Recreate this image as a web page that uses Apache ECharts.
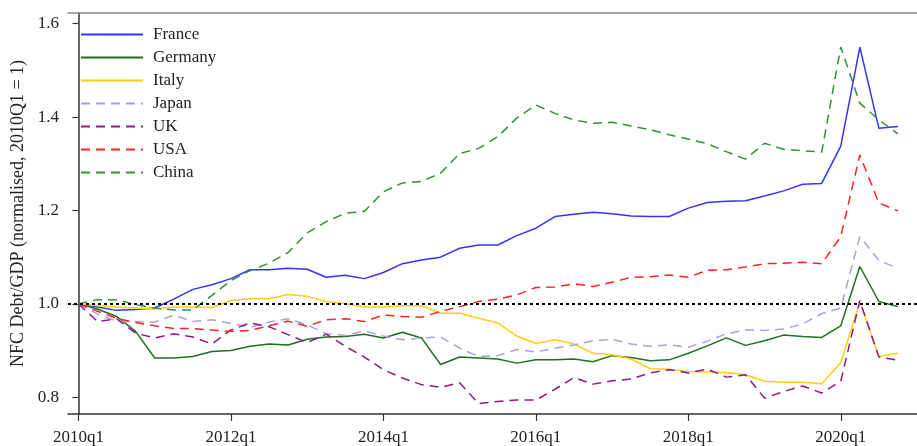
<!DOCTYPE html>
<html>
<head>
<meta charset="utf-8">
<script src="https://cdn.jsdelivr.net/npm/echarts@6/dist/echarts.min.js"></script>
<style>
  html, body { margin: 0; padding: 0; background: #fff; }
  #chart { width: 917px; height: 446px; }
</style>
</head>
<body>
<div id="chart"></div>
<script>
// quarters, 2010q1 .. 2020q4
const quarters = [
  '2010q1','2010q2','2010q3','2010q4','2011q1','2011q2','2011q3','2011q4',
  '2012q1','2012q2','2012q3','2012q4','2013q1','2013q2','2013q3','2013q4',
  '2014q1','2014q2','2014q3','2014q4','2015q1','2015q2','2015q3','2015q4',
  '2016q1','2016q2','2016q3','2016q4','2017q1','2017q2','2017q3','2017q4',
  '2018q1','2018q2','2018q3','2018q4','2019q1','2019q2','2019q3','2019q4',
  '2020q1','2020q2','2020q3','2020q4'
]
// which quarters get a label on the x axis
const xTickIdx = [0, 8, 16, 24, 32, 40]
const yTicks = [0.8, 1.0, 1.2, 1.4, 1.6]

// NFC debt/GDP, normalised to 2010q1 = 1
const france = [1.000, 0.993, 0.986, 0.988, 0.991, 1.010, 1.031, 1.041, 1.054, 1.073,
  1.073, 1.076, 1.074, 1.057, 1.061, 1.054, 1.067, 1.086, 1.094, 1.100,
  1.119, 1.126, 1.126, 1.146, 1.162, 1.187, 1.192, 1.196, 1.193, 1.188,
  1.187, 1.187, 1.205, 1.217, 1.220, 1.221, 1.231, 1.242, 1.256, 1.258,
  1.338, 1.550, 1.376, 1.380]
const germany = [1.000, 0.989, 0.973, 0.941, 0.884, 0.884, 0.887, 0.898, 0.900, 0.909,
  0.914, 0.912, 0.924, 0.929, 0.930, 0.935, 0.927, 0.939, 0.927, 0.870,
  0.886, 0.884, 0.882, 0.873, 0.880, 0.880, 0.882, 0.876, 0.889, 0.885,
  0.878, 0.880, 0.894, 0.910, 0.927, 0.911, 0.921, 0.933, 0.930, 0.928,
  0.953, 1.080, 1.005, 0.994]
const italy = [1.000, 0.996, 0.993, 0.991, 0.989, 0.993, 0.993, 0.992, 1.007, 1.011,
  1.011, 1.020, 1.016, 1.005, 1.000, 0.993, 0.993, 0.996, 0.996, 0.980,
  0.980, 0.969, 0.959, 0.931, 0.915, 0.923, 0.914, 0.894, 0.891, 0.882,
  0.861, 0.860, 0.855, 0.854, 0.853, 0.848, 0.834, 0.832, 0.832, 0.829,
  0.874, 1.004, 0.887, 0.894]
const japan = [1.000, 0.978, 0.963, 0.962, 0.961, 0.976, 0.962, 0.966, 0.958, 0.950,
  0.961, 0.968, 0.955, 0.936, 0.932, 0.942, 0.931, 0.923, 0.927, 0.929,
  0.905, 0.887, 0.889, 0.902, 0.897, 0.905, 0.912, 0.921, 0.924, 0.914,
  0.909, 0.912, 0.907, 0.920, 0.936, 0.944, 0.943, 0.946, 0.957, 0.979,
  0.991, 1.144, 1.093, 1.076]
const uk = [1.000, 0.962, 0.968, 0.937, 0.927, 0.936, 0.929, 0.914, 0.944, 0.959,
  0.951, 0.934, 0.917, 0.935, 0.909, 0.886, 0.859, 0.841, 0.827, 0.821,
  0.831, 0.786, 0.791, 0.794, 0.794, 0.817, 0.842, 0.828, 0.835, 0.839,
  0.852, 0.859, 0.852, 0.860, 0.843, 0.848, 0.798, 0.812, 0.824, 0.809,
  0.834, 1.007, 0.886, 0.879]
const usa = [1.000, 0.984, 0.969, 0.960, 0.953, 0.947, 0.947, 0.944, 0.941, 0.943,
  0.953, 0.963, 0.952, 0.966, 0.968, 0.962, 0.976, 0.973, 0.971, 0.984,
  0.994, 1.005, 1.010, 1.019, 1.035, 1.036, 1.043, 1.037, 1.046, 1.057,
  1.058, 1.062, 1.057, 1.072, 1.073, 1.079, 1.086, 1.087, 1.089, 1.086,
  1.144, 1.319, 1.216, 1.199]
const china = [1.000, 1.009, 1.009, 0.998, 0.991, 0.987, 0.987, 1.018, 1.050, 1.071,
  1.087, 1.110, 1.152, 1.176, 1.194, 1.198, 1.240, 1.259, 1.262, 1.280,
  1.322, 1.333, 1.358, 1.398, 1.426, 1.408, 1.394, 1.387, 1.389, 1.381,
  1.373, 1.362, 1.353, 1.343, 1.326, 1.310, 1.344, 1.331, 1.328, 1.325,
  1.550, 1.430, 1.394, 1.364]

const FONT = 'Liberation Serif'
const TXT = '#222'

// 名称, 数据, 颜色, 虚线?
const lines = [
  ['France', france, '#3333ff', false],
  ['Germany', germany, '#1f6f1f', false],
  ['Italy', italy, '#ffcc11', false],
  ['Japan', japan, '#a8a0e0', true],
  ['UK', uk, '#8b1a8b', true],
  ['USA', usa, '#ff2222', true],
  ['China', china, '#2f962f', true]
]

const series = lines.map(([name, vals, color, dashed]) => ({
  name: name,
  type: 'line',
  symbol: 'none',
  animation: false,
  data: vals.map((v, i) => [i, v]),
  lineStyle: { color: color, width: 1.5, type: dashed ? [9, 6] : 'solid' },
  itemStyle: { color: color }
}))

// dotted reference line at 1
series[series.length - 1].markLine = {
  silent: true,
  symbol: 'none',
  label: { show: false },
  lineStyle: { color: '#000', width: 2, type: [3, 3] },
  data: [{ yAxis: 1 }]
}

const chart = echarts.init(document.getElementById('chart'))
chart.setOption({
  animation: false,
  grid: { left: 68, top: 13, right: 0, bottom: 32 },
  legend: {
    orient: 'vertical',
    left: 80,
    top: 26,
    padding: 0,
    itemWidth: 62,
    itemHeight: 17,
    itemGap: 6,
    itemStyle: { opacity: 0 },
    textStyle: { fontFamily: FONT, fontSize: 17, color: TXT, lineHeight: 17, padding: [0, 0, 0, 5] },
    data: lines.map(l => l[0])
  },
  xAxis: [{
    type: 'value',
    min: -0.55,
    max: 44,
    splitLine: { show: false },
    axisLine: { lineStyle: { color: '#333', width: 1.5 } },
    axisTick: { length: 7, customValues: xTickIdx, lineStyle: { color: '#333', width: 1.2 } },
    axisLabel: {
      customValues: xTickIdx,
      formatter: v => quarters[v],
      margin: 15,
      fontFamily: FONT, fontSize: 17, color: TXT
    }
  }, {
    // top frame line
    type: 'value',
    position: 'top',
    min: -0.55,
    max: 44,
    splitLine: { show: false },
    axisLine: { lineStyle: { color: '#888', width: 1.5 } },
    axisTick: { show: false },
    axisLabel: { show: false }
  }],
  yAxis: {
    type: 'value',
    min: 0.764,
    max: 1.623,
    name: 'NFC Debt/GDP (normalised, 2010Q1 = 1)',
    nameLocation: 'middle',
    nameGap: 39,
    nameTextStyle: { fontFamily: FONT, fontSize: 18, color: TXT },
    splitLine: { show: false },
    axisLine: { show: true, lineStyle: { color: '#333', width: 1.5 } },
    axisTick: { show: true, length: 6, customValues: yTicks, lineStyle: { color: '#333', width: 1.2 } },
    axisLabel: {
      customValues: yTicks,
      formatter: v => v.toFixed(1),
      margin: 9,
      fontFamily: FONT, fontSize: 17, color: TXT
    }
  },
  series: series
})
</script>
</body>
</html>
